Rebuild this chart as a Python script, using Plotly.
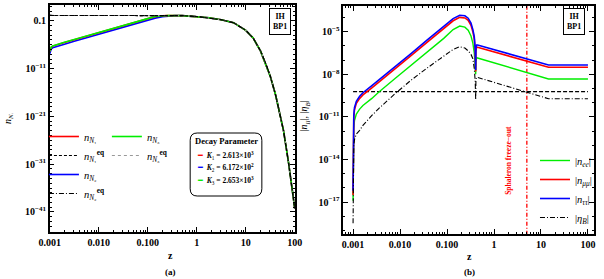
import numpy as np
import plotly.graph_objects as go

# ---------------- Panel (a): abundances of N_i vs z (log10 values) ----------------
A_LZ_EQ = [-3.0, -2.0, -1.0, -0.6, -0.3, 0.0, 0.25, 0.5, 0.75, 1.0, 1.15, 1.3, 1.41, 1.5, 1.61, 1.7, 1.77, 1.87, 1.94, 2.0]
A_LOGN_EQ = [0.12, 0.12, 0.12, 0.11, 0.07, -0.1, -0.38, -0.8, -1.4, -3.0, -4.6, -7.3, -10.0, -12.6, -16.6, -20.8, -24.0, -30.5, -35.5, -40.3]

A_LZ_N13 = [-3.0, -2.99, -2.97, -2.94, -2.9, -2.7, -2.5, -2.0, -1.5, -1.2, -1.0, -0.85, -0.7, -0.6, -0.3, 0.0, 0.25, 0.5, 0.75, 1.0,
            1.15, 1.3, 1.41, 1.5, 1.61, 1.7, 1.77, 1.87, 1.94, 2.0]
A_LOGN_N1 = [-7.45, -6.95, -6.55, -6.3, -6.15, -5.55, -4.95, -3.45, -1.95, -1.05, -0.57, -0.14, 0.05, 0.1, 0.07, -0.1, -0.38, -0.8, -1.4, -3.0,
             -4.6, -7.3, -10.0, -12.6, -16.6, -20.8, -24.0, -30.5, -35.5, -40.3]
A_LOGN_N3 = [-7.4, -6.9, -6.5, -6.25, -6.1, -5.5, -4.9, -3.4, -1.9, -1.0, -0.55, -0.12, 0.06, 0.1, 0.07, -0.1, -0.38, -0.8, -1.4, -3.0,
             -4.6, -7.3, -10.0, -12.6, -16.6, -20.8, -24.0, -30.5, -35.5, -40.3]

A_LZ_N2 = [-3.0, -2.99, -2.97, -2.94, -2.9, -2.7, -2.5, -2.0, -1.5, -1.2, -1.0, -0.85, -0.7, -0.6, -0.45, -0.3, 0.0, 0.25, 0.5, 0.75, 1.0,
           1.15, 1.3, 1.41, 1.5, 1.61, 1.7, 1.77, 1.87, 1.94, 2.0]
A_LOGN_N2 = [-7.9, -7.3, -6.9, -6.65, -6.5, -5.9, -5.3, -3.8, -2.3, -1.4, -0.85, -0.45, -0.15, -0.02, 0.08, 0.07, -0.1, -0.38, -0.8, -1.4, -3.0,
             -4.6, -7.3, -10.0, -12.6, -16.6, -20.8, -24.0, -30.5, -35.5, -40.3]

A_XTICKS = [0.001, 0.01, 0.1, 1, 10, 100]
A_XTICKTEXT = ["0.001", "0.010", "0.100", "1", "10", "100"]
A_YTICK_EXP = [-1, -11, -21, -31, -41]
A_YTICKTEXT = ["0.1", "10<sup>\u221211</sup>", "10<sup>\u221221</sup>", "10<sup>\u221231</sup>", "10<sup>\u221241</sup>"]

DECAY_K = [("1", "2.613", "3", "#ff0000"), ("2", "6.172", "2", "#0000ff"), ("3", "2.653", "3", "#00ee00")]

# ---------------- Panel (b): flavoured asymmetries vs z ----------------
B_LZ = [-3.0, -2.999, -2.995, -2.985, -2.97, -2.93, -2.86, -2.79, -2.6, -2.45, -2.1, -1.76, -1.42, -1.07, -0.87, -0.73,
        -0.62, -0.55, -0.49, -0.45, -0.42, -0.40, -0.39, -0.385, -0.37, -0.35, 1.16, 2.0]
B_LOG_TT = [-16.2, -13.0, -11.6, -10.9, -10.35, -9.9, -9.55, -9.3, -8.8, -8.4, -7.46, -6.52, -5.58, -4.65, -4.08, -3.84,
            -3.88, -4.05, -4.4, -4.85, -5.35, -6.2, -7.7, -6.2, -5.94, -5.94, -7.35, -7.35]
B_LOG_MM = [-16.5, -13.2, -11.8, -11.05, -10.5, -10.05, -9.7, -9.45, -8.95, -8.55, -7.61, -6.67, -5.73, -4.8, -4.23, -3.99,
            -4.03, -4.2, -4.55, -5.0, -5.5, -6.35, -7.8, -6.35, -6.1, -6.1, -7.5, -7.5]
B_LOG_EE = [-16.9, -13.8, -12.5, -11.8, -11.25, -10.8, -10.45, -10.2, -9.7, -9.25, -8.28, -7.35, -6.41, -5.47, -4.85, -4.6,
            -4.68, -4.9, -5.3, -5.8, -6.5, -7.3, -8.0, -7.1, -6.83, -6.85, -8.33, -8.33]
B_LOG_ETAB = [-18.5, -15.5, -13.8, -13.0, -12.6, -12.2, -11.95, -11.6, -10.9, -10.4, -9.35, -8.4, -7.55, -6.7, -6.25, -6.06,
              -6.15, -6.35, -6.6, -6.9, -7.6, -8.5, -9.8, -8.4, -8.21, -8.22, -9.72, -9.72]
ETA_B_OBS = 6.1e-10
Z_SPHALERON = 5.0

B_YTICK_EXP = [-5, -8, -11, -14, -17]
B_YTICKTEXT = ["10<sup>\u22125</sup>", "10<sup>\u22128</sup>", "10<sup>\u221211</sup>", "10<sup>\u221214</sup>", "10<sup>\u221217</sup>"]

# ---------------- figure ----------------
W, H = 604, 279
SERIF = "Liberation Serif"

def p(v):
    return np.power(10.0, np.array(v, dtype=float))

fig = go.Figure()

# panel (a) traces
fig.add_trace(go.Scatter(x=p(A_LZ_N2), y=p(A_LOGN_N2), mode="lines", line=dict(color="#0000ff", width=1.6),
                         name="<i>n</i><sub><i>N</i>\u2082</sub>", legend="legend", legendrank=3, xaxis="x", yaxis="y"))
fig.add_trace(go.Scatter(x=p(A_LZ_N13), y=p(A_LOGN_N1), mode="lines", line=dict(color="#ff0000", width=1.6),
                         name="<i>n</i><sub><i>N</i>\u2081</sub>", legend="legend", legendrank=1, xaxis="x", yaxis="y"))
fig.add_trace(go.Scatter(x=p(A_LZ_N13), y=p(A_LOGN_N3), mode="lines", line=dict(color="#00ee00", width=1.6),
                         name="<i>n</i><sub><i>N</i>\u2083</sub>", legend="legend2", legendrank=1, xaxis="x", yaxis="y"))
fig.add_trace(go.Scatter(x=p(A_LZ_EQ), y=p(A_LOGN_EQ), mode="lines", line=dict(color="#999999", width=1.1, dash="dot"),
                         name="<i>n</i><sub><i>N</i>\u2083</sub><sup><b>eq</b></sup>", legend="legend2", legendrank=2, xaxis="x", yaxis="y"))
fig.add_trace(go.Scatter(x=p(A_LZ_EQ), y=p(A_LOGN_EQ), mode="lines", line=dict(color="#000000", width=1.1, dash="3px,2px"),
                         name="<i>n</i><sub><i>N</i>\u2081</sub><sup><b>eq</b></sup>", legend="legend", legendrank=2, xaxis="x", yaxis="y"))
fig.add_trace(go.Scatter(x=p(A_LZ_EQ), y=p(A_LOGN_EQ), mode="lines", line=dict(color="#000000", width=1.1, dash="5px,2px,1px,2px"),
                         name="<i>n</i><sub><i>N</i>\u2082</sub><sup><b>eq</b></sup>", legend="legend", legendrank=4, xaxis="x", yaxis="y"))

# panel (b) traces
bz = p(B_LZ)
fig.add_trace(go.Scatter(x=[bz[0], bz[-1]], y=[ETA_B_OBS, ETA_B_OBS], mode="lines",
                         line=dict(color="#000000", width=1.3, dash="4px,2px"), showlegend=False, xaxis="x2", yaxis="y2"))
fig.add_trace(go.Scatter(x=[Z_SPHALERON, Z_SPHALERON], y=[1e-25, 1e-1], mode="lines",
                         line=dict(color="#ff0000", width=1.3, dash="4px,2px,1px,2px"), showlegend=False, xaxis="x2", yaxis="y2"))
fig.add_trace(go.Scatter(x=bz, y=p(B_LOG_EE), mode="lines", line=dict(color="#00ee00", width=1.4),
                         name="|<i>n</i><sub><i>ee</i></sub>|", legend="legend4", legendrank=1, xaxis="x2", yaxis="y2"))
fig.add_trace(go.Scatter(x=bz, y=p(B_LOG_MM), mode="lines", line=dict(color="#ff0000", width=1.6),
                         name="|<i>n</i><sub><i>\u03bc\u03bc</i></sub>|", legend="legend4", legendrank=2, xaxis="x2", yaxis="y2"))
fig.add_trace(go.Scatter(x=bz, y=p(B_LOG_TT), mode="lines", line=dict(color="#0000ff", width=1.6),
                         name="|<i>n</i><sub><i>\u03c4\u03c4</i></sub>|", legend="legend4", legendrank=3, xaxis="x2", yaxis="y2"))
fig.add_trace(go.Scatter(x=bz, y=p(B_LOG_ETAB), mode="lines", line=dict(color="#000000", width=1.1, dash="5px,2px,1px,2px"),
                         name="|<i>\u03b7</i><sub><i>B</i></sub>|", legend="legend4", legendrank=4, xaxis="x2", yaxis="y2"))

tickfont = dict(family=SERIF, size=10, color="#000", weight="bold")

def minor_x():
    return [m * 10.0 ** e for e in range(-4, 3) for m in range(2, 10)]

common_axis = dict(type="log", showline=True, linecolor="#000", linewidth=1.5, mirror="allticks",
                   ticks="inside", ticklen=5, tickwidth=1, tickcolor="#000", showgrid=False, zeroline=False,
                   tickfont=tickfont, tickmode="array")

legfont = dict(family=SERIF, size=10.5, color="#000")
fig.update_layout(
    width=W, height=H, margin=dict(l=0, r=0, t=0, b=0),
    paper_bgcolor="white", plot_bgcolor="white",
    font=dict(family=SERIF, color="#000"),
    xaxis=dict(common_axis, domain=[40 / W, 293 / W], range=[-3, 2], anchor="y",
               tickvals=A_XTICKS, ticktext=A_XTICKTEXT,
               minor=dict(tickmode="array", tickvals=minor_x(), ticks="inside", ticklen=2.5, tickcolor="#000")),
    yaxis=dict(common_axis, domain=[1 - 232 / H, 1 - 5 / H], range=[-45.2, 2.3], anchor="x",
               tickvals=list(p(A_YTICK_EXP)), ticktext=A_YTICKTEXT,
               minor=dict(tickmode="array", tickvals=list(p(list(range(-46, 3)))), ticks="inside", ticklen=2.5, tickcolor="#000")),
    xaxis2=dict(common_axis, domain=[343 / W, 602 / W], range=[-3.21, 2.13], anchor="y2",
                tickvals=A_XTICKS, ticktext=A_XTICKTEXT,
                minor=dict(tickmode="array", tickvals=minor_x(), ticks="inside", ticklen=2.5, tickcolor="#000")),
    yaxis2=dict(common_axis, domain=[1 - 234 / H, 1 - 6 / H], range=[-19.25, -3.19], anchor="x2",
                tickvals=list(p(B_YTICK_EXP)), ticktext=B_YTICKTEXT,
                minor=dict(tickmode="array", tickvals=list(p(list(range(-20, -2)))), ticks="inside", ticklen=2.5, tickcolor="#000")),
    legend=dict(x=34 / W, y=1 - 122 / H, xanchor="left", yanchor="top", bgcolor="rgba(0,0,0,0)",
                font=legfont, itemwidth=30),
    legend2=dict(x=99 / W, y=1 - 122 / H, xanchor="left", yanchor="top", bgcolor="rgba(0,0,0,0)",
                 font=legfont, itemwidth=30),
    legend4=dict(x=541 / W, y=1 - 146 / H, xanchor="left", yanchor="top", bgcolor="rgba(0,0,0,0)",
                 font=legfont, itemwidth=30),
)

ann = []
def a(x, y, text, size=10, color="#000", **kw):
    d = dict(x=x / W, y=1 - y / H, xref="paper", yref="paper", text=text, showarrow=False,
             xanchor="center", yanchor="middle",
             font=dict(family=SERIF, size=size, color=color))
    d.update(kw)
    ann.append(d)

# axis titles and panel captions
a(165, 255, "<b>z</b>", 10)
a(473, 256, "<b>z</b>", 10)
a(165, 272, "<b>(a)</b>", 9)
a(473, 272, "<b>(b)</b>", 9)
a(-3, 118, "<i>n</i><sub><i>N</i>\u1d62</sub>", 10, textangle=-90)
a(304, 116, "|<i>n</i><sub><i>ll</i></sub>|, |<i>\u03b7</i><sub><i>B</i></sub>|", 10, textangle=-90)

# IH / BP1 boxes
for cx in (278, 581):
    a(cx, 21, "<b>IH</b><br><b>BP1</b>", 8, bordercolor="#000", borderwidth=1, borderpad=3, bgcolor="white")

# Sphaleron label
a(513, 160, "<b>Sphaleron freeze\u2212out</b>", 7.5, color="#ff0000", textangle=-90)

# Decay parameter box
a(222, 141, "<b>Decay Parameter</b>", 8.5)
for i, (k, v, ex, col) in enumerate(DECAY_K):
    a(190, 155 + 12.5 * i,
      "<span style='color:%s'>\u2501</span>&nbsp;&nbsp;<i><b>K</b></i><sub>%s</sub><b> = %s\u00d710<sup>%s</sup></b>" % (col, k, v, ex),
      7.5, xanchor="left")
fig.update_layout(annotations=ann)

x0, x1, y0, y1, r = 185 / W, 259 / W, 1 - 196 / H, 1 - 133 / H, 0.012
ry = r * W / H
path = (f"M {x0 + r},{y0} L {x1 - r},{y0} Q {x1},{y0} {x1},{y0 + ry} L {x1},{y1 - ry} Q {x1},{y1} {x1 - r},{y1} "
        f"L {x0 + r},{y1} Q {x0},{y1} {x0},{y1 - ry} L {x0},{y0 + ry} Q {x0},{y0} {x0 + r},{y0} Z")
fig.add_shape(type="path", path=path, xref="paper", yref="paper", line=dict(color="#000", width=1))

fig.write_html("out.html", config={"displayModeBar": False},
               post_script="document.body.style.margin='0px';document.body.style.overflow='hidden';")
